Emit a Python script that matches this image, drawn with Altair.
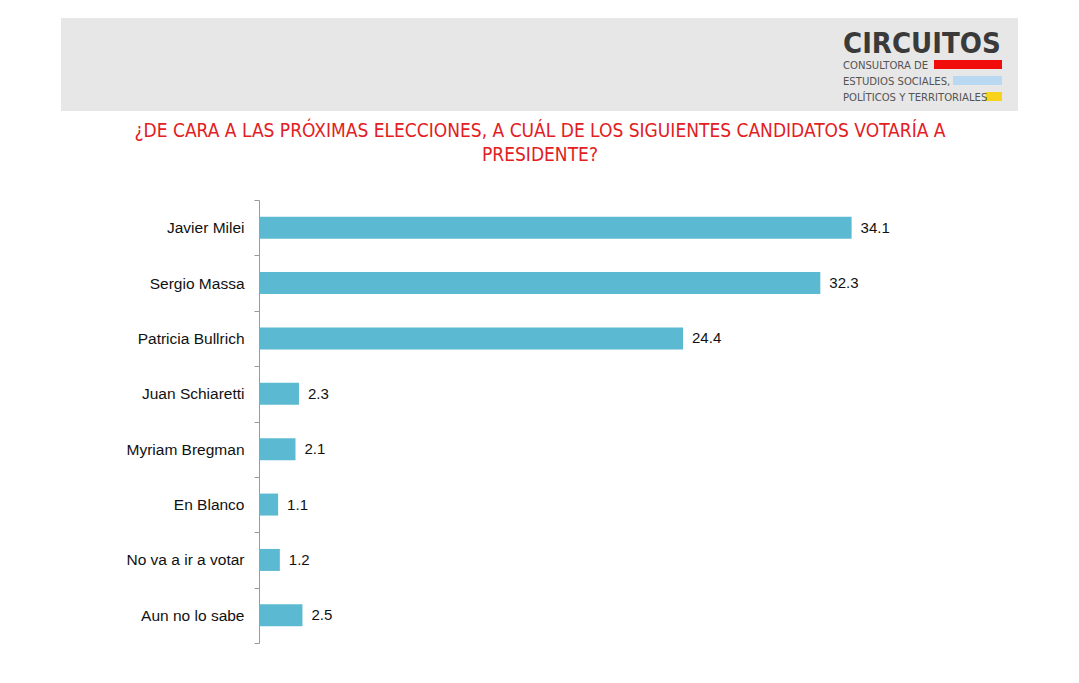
import altair as alt
import pandas as pd

categories = ["Javier Milei", "Sergio Massa", "Patricia Bullrich", "Juan Schiaretti",
              "Myriam Bregman", "En Blanco", "No va a ir a votar", "Aun no lo sabe"]
values = [34.1, 32.3, 24.4, 2.3, 2.1, 1.1, 1.2, 2.5]
value_labels = ["34.1", "32.3", "24.4", "2.3", "2.1", "1.1", "1.2", "2.5"]

title_lines = ["¿DE CARA A LAS PRÓXIMAS ELECCIONES, A CUÁL DE LOS SIGUIENTES CANDIDATOS VOTARÍA A",
               "PRESIDENTE?"]
logo_title = "CIRCUITOS"
logo_lines = ["CONSULTORA DE", "ESTUDIOS SOCIALES,", "POLÍTICOS Y TERRITORIALES"]

df = pd.DataFrame({"cat": categories, "val": values, "lab": value_labels})

W, H = 643, 443
OX, OY = 259, 200  # plot origin on page
BAR = "#5bbad1"
COND = "DejaVu Sans Condensed"

y_enc = alt.Y("cat:N", sort=categories, title=None,
              scale=alt.Scale(paddingInner=0, paddingOuter=0),
              axis=alt.Axis(tickBand="extent", domainColor="#9a9a9a", tickColor="#9a9a9a",
                            tickSize=5, labelPadding=10, labelFontSize=15.5,
                            labelFont="Liberation Sans", labelColor="#111111", labelLimit=300))
x_enc = alt.X("val:Q", scale=alt.Scale(domain=[0, 37], nice=False), axis=None)

bars = alt.Chart(df).mark_bar(color=BAR, size=22).encode(y=y_enc, x=x_enc)
texts = alt.Chart(df).mark_text(align="left", baseline="middle", dx=9, fontSize=15,
                                font="Liberation Sans", color="#111111").encode(
    y=alt.Y("cat:N", sort=categories), x="val:Q", text="lab:N")

one = pd.DataFrame({"a": [0]})
header = alt.Chart(one).mark_rect(color="#e7e7e7").encode(
    x=alt.value(61 - OX), x2=alt.value(1018 - OX), y=alt.value(18 - OY), y2=alt.value(111 - OY))

def stripe(x1, x2, y1, y2, color):
    return alt.Chart(one).mark_rect(color=color).encode(
        x=alt.value(x1 - OX), x2=alt.value(x2 - OX), y=alt.value(y1 - OY), y2=alt.value(y2 - OY))

red = stripe(934, 1002, 60, 69, "#f20d0d")
blue = stripe(953, 1002, 76, 85, "#b9d9f2")
yellow = stripe(986, 1002, 92, 101, "#f9d21c")

logo = alt.Chart(pd.DataFrame({"t": [logo_title]})).mark_text(
    align="left", baseline="alphabetic", font=COND, fontWeight="bold", fontSize=29,
    color="#3a3a3a").encode(text="t:N", x=alt.value(843 - OX), y=alt.value(53 - OY))

logo_texts = []
for line, yy in zip(logo_lines, [69, 85, 101]):
    logo_texts.append(alt.Chart(pd.DataFrame({"t": [line]})).mark_text(
        align="left", baseline="alphabetic", font=COND, fontSize=11.2,
        color="#555555").encode(text="t:N", x=alt.value(843 - OX), y=alt.value(yy - OY)))

title_marks = []
for line, yy in zip(title_lines, [131, 155]):
    title_marks.append(alt.Chart(pd.DataFrame({"t": [line]})).mark_text(
        align="center", baseline="middle", font=COND, fontSize=19,
        color="#e2201f").encode(text="t:N", x=alt.value(540 - OX), y=alt.value(yy - OY)))

chart = alt.layer(header, red, blue, yellow, logo, *logo_texts, *title_marks, bars, texts).properties(
    width=W, height=H,
    autosize=alt.AutoSizeParams(type="none"),
    padding={"left": OX - 8, "top": OY - 8, "right": 1063 - (OX - 8) - W, "bottom": 16},
).configure(background="white").configure_view(strokeWidth=0)

chart.save("out.html", embed_options={"renderer": "svg", "actions": False})
